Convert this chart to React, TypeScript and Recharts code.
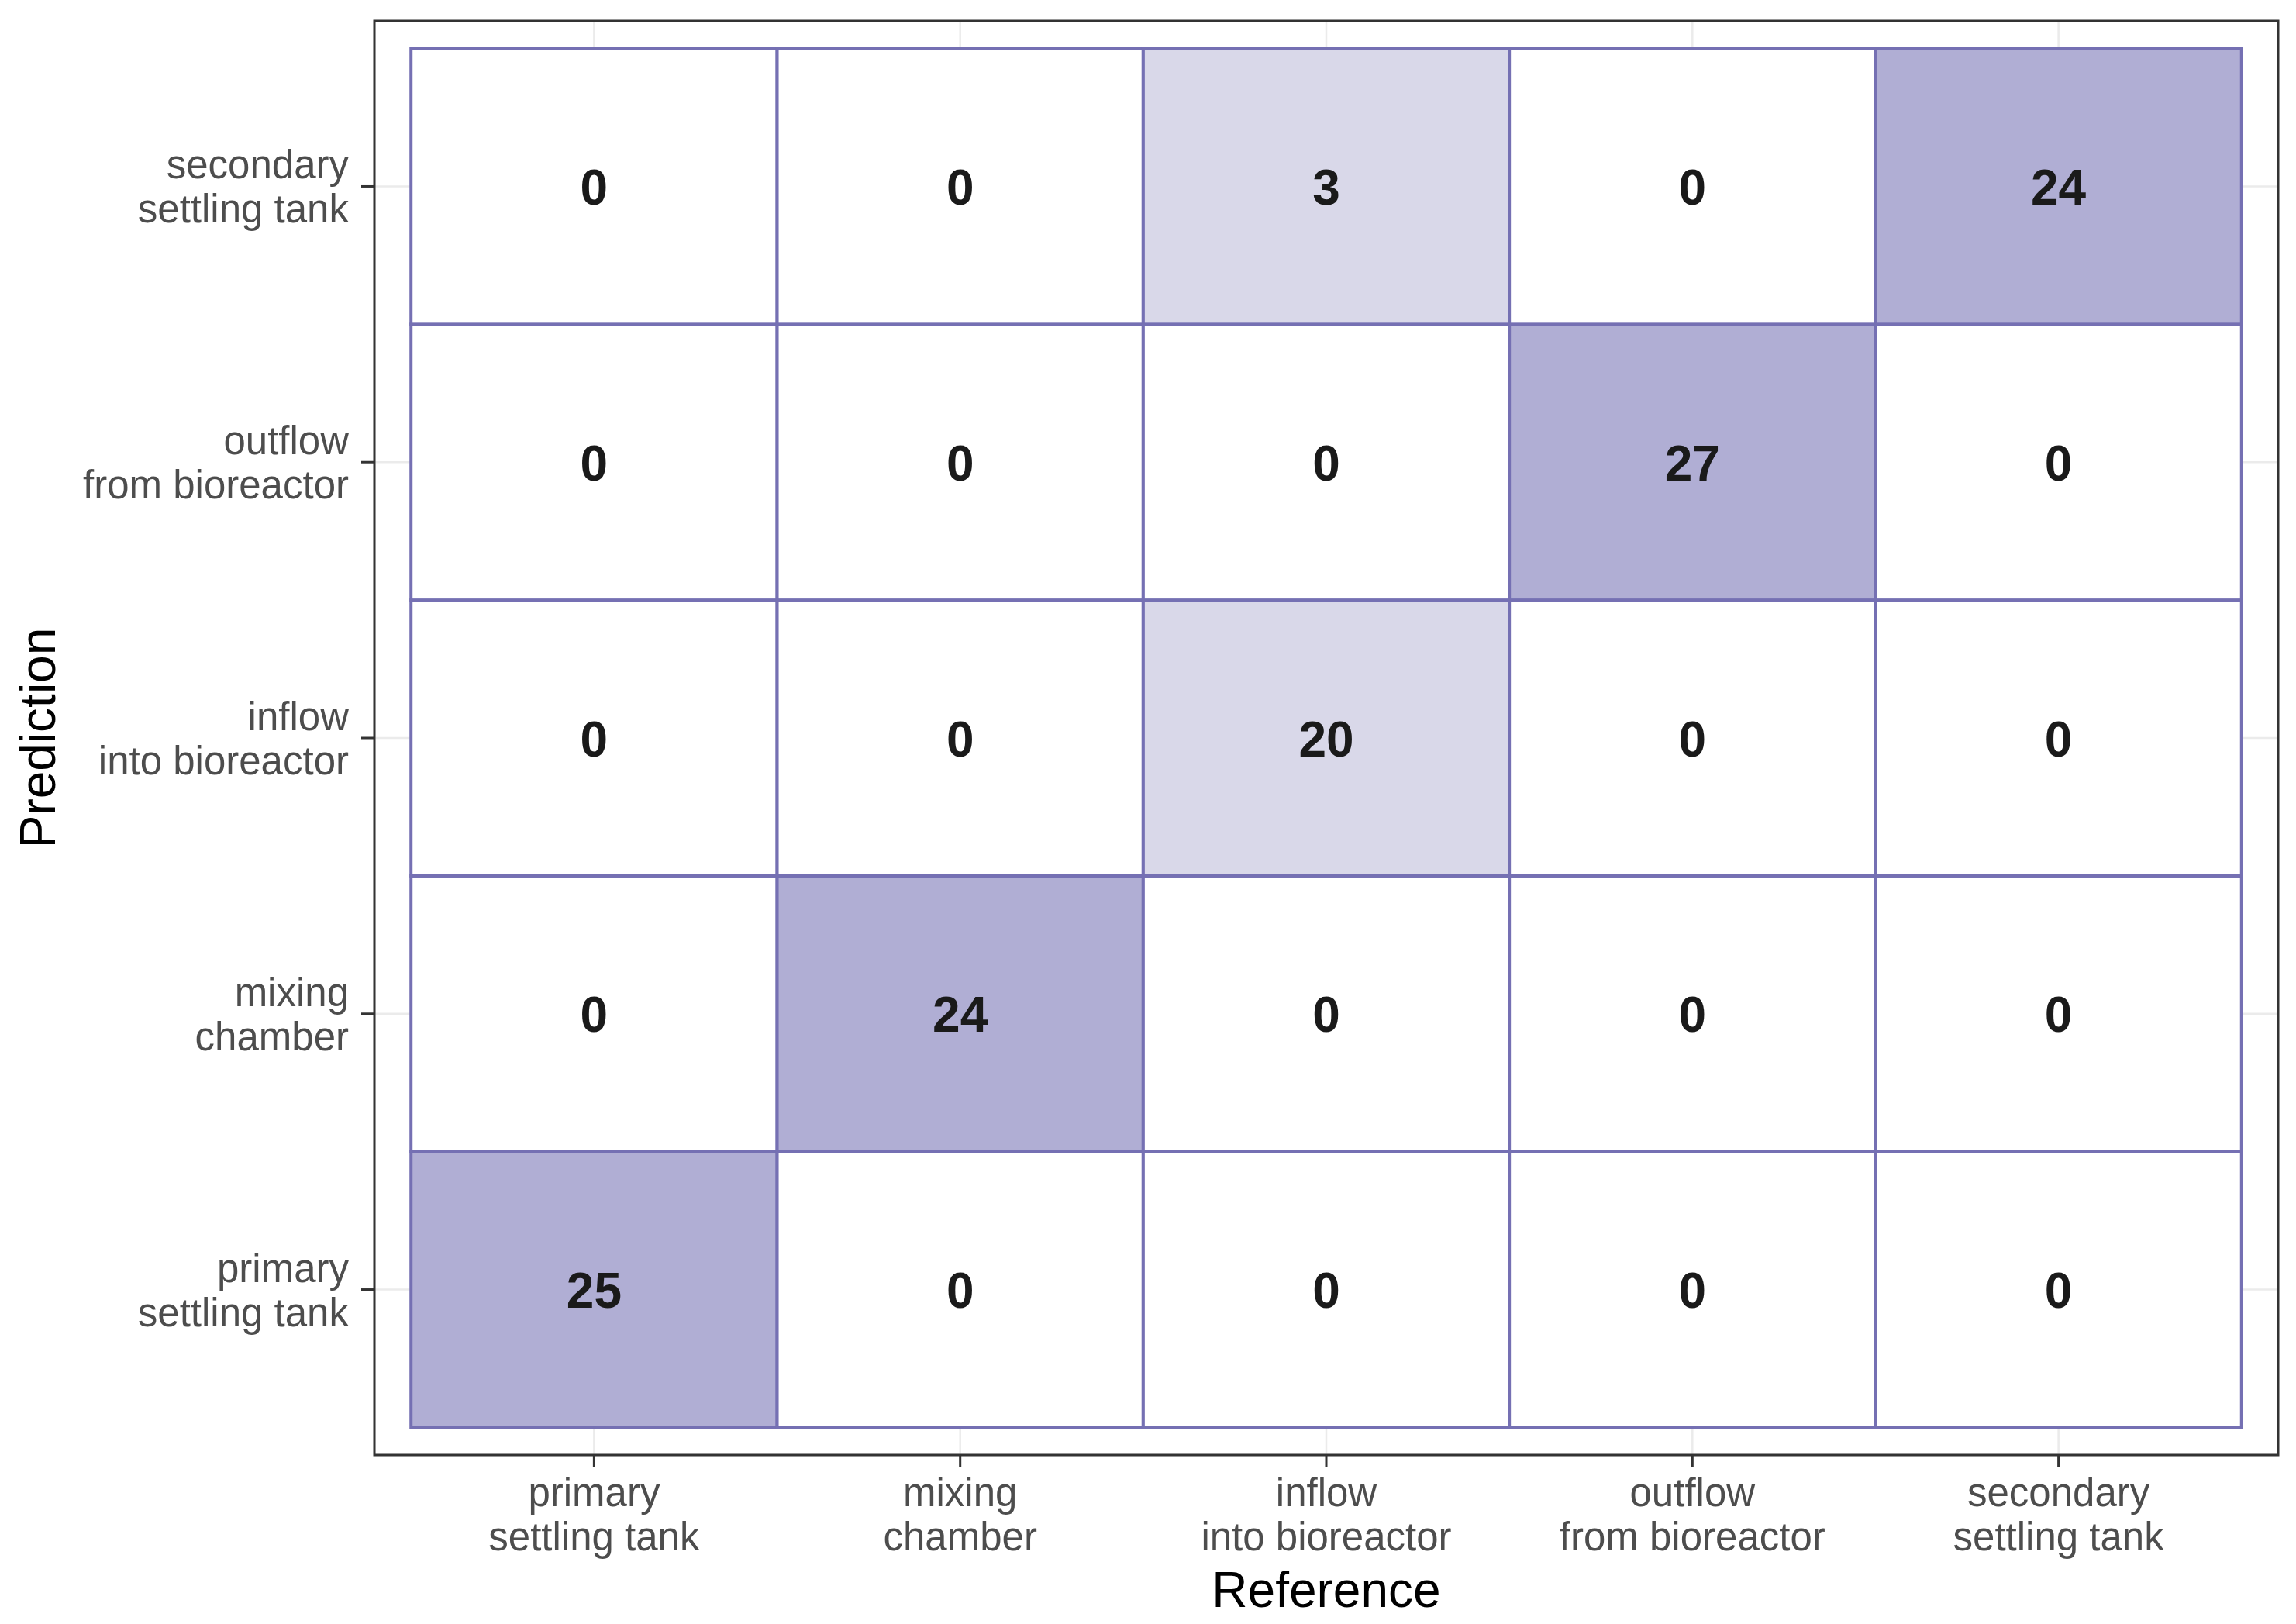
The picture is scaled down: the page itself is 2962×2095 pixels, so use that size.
import {
  ScatterChart,
  Scatter,
  XAxis,
  YAxis,
  CartesianGrid,
  ReferenceArea,
} from "recharts";

const referenceLabels = [
  ["primary", "settling tank"],
  ["mixing", "chamber"],
  ["inflow", "into bioreactor"],
  ["outflow", "from bioreactor"],
  ["secondary", "settling tank"],
];
const predictionLabels = referenceLabels;

// rows: prediction (bottom -> top), cols: reference (left -> right)
const predPrimary = [25, 0, 0, 0, 0];
const predMixing = [0, 24, 0, 0, 0];
const predInflow = [0, 0, 20, 0, 0];
const predOutflow = [0, 0, 0, 27, 0];
const predSecondary = [0, 0, 3, 0, 24];
const rows = [predPrimary, predMixing, predInflow, predOutflow, predSecondary];

const ticks = [1, 2, 3, 4, 5];
const domain: [number, number] = [0.4, 5.6];

const W = 2962;
const H = 2095;
const MARGIN = { top: 27, right: 23, left: 0, bottom: 0 };
const Y_AXIS_W = 483;
const X_AXIS_H = 218;
const PLOT_W = W - MARGIN.left - MARGIN.right - Y_AXIS_W;
const PLOT_H = H - MARGIN.top - MARGIN.bottom - X_AXIS_H;
const CELL_W = PLOT_W / (domain[1] - domain[0]);
const CELL_H = PLOT_H / (domain[1] - domain[0]);

const cells = rows.flatMap((row, r) =>
  row.map((value, c) => ({ x: c + 1, y: r + 1, value }))
);

const FONT = "'Liberation Sans', Arial, Helvetica, sans-serif";

function fillFor(value: number) {
  if (value === 0) return "#ffffff";
  if (value <= 20) return "#d9d8e9";
  return "#b0aed4";
}

function Tile(props: any) {
  const { cx, cy, payload } = props;
  if (cx == null || cy == null) return null;
  return (
    <g>
      <rect
        x={cx - CELL_W / 2}
        y={cy - CELL_H / 2}
        width={CELL_W}
        height={CELL_H}
        fill={fillFor(payload.value)}
        stroke="#7570b3"
        strokeWidth={4}
      />
      <text
        x={cx}
        y={cy}
        dy="0.37em"
        textAnchor="middle"
        fontFamily={FONT}
        fontWeight="bold"
        fontSize={64}
        fill="#1a1a1a"
      >
        {payload.value}
      </text>
    </g>
  );
}

function XTick(props: any) {
  const { x, y, payload } = props;
  const lines = referenceLabels[payload.value - 1] || [];
  return (
    <text x={x} y={y} textAnchor="middle" fontFamily={FONT} fontSize={51} fill="#4d4d4d">
      {lines.map((l, i) => (
        <tspan key={i} x={x} y={y + 51 + i * 57}>
          {l}
        </tspan>
      ))}
    </text>
  );
}

function YTick(props: any) {
  const { x, y, payload } = props;
  const lines = predictionLabels[payload.value - 1] || [];
  return (
    <text x={x} y={y} textAnchor="end" fontFamily={FONT} fontSize={51} fill="#4d4d4d">
      {lines.map((l, i) => (
        <tspan key={i} x={x} y={y - 10 + i * 57}>
          {l}
        </tspan>
      ))}
    </text>
  );
}

export default function App() {
  return (
    <div style={{ position: "absolute", left: 0, top: 0, width: W, height: H, background: "#fff" }}>
      <ScatterChart width={W} height={H} margin={MARGIN}>
        <CartesianGrid stroke="#ebebeb" strokeWidth={2.5} />
        <XAxis
          type="number"
          dataKey="x"
          domain={domain}
          ticks={ticks}
          interval={0}
          height={X_AXIS_H}
          axisLine={false}
          tickLine={{ stroke: "#333333", strokeWidth: 3 }}
          tickSize={15}
          tickMargin={0}
          tick={<XTick />}
          label={({ viewBox }: any) => (
            <text
              x={viewBox.x + viewBox.width / 2}
              y={viewBox.y + 196}
              textAnchor="middle"
              fontFamily={FONT}
              fontSize={64}
              fill="#000"
            >
              Reference
            </text>
          )}
        />
        <YAxis
          type="number"
          dataKey="y"
          domain={domain}
          ticks={ticks}
          interval={0}
          width={Y_AXIS_W}
          axisLine={false}
          tickLine={{ stroke: "#333333", strokeWidth: 3 }}
          tickSize={17}
          tickMargin={16}
          tick={<YTick />}
          label={({ viewBox }: any) => (
            <text
              x={71}
              y={viewBox.y + viewBox.height / 2}
              transform={`rotate(-90, 71, ${viewBox.y + viewBox.height / 2})`}
              textAnchor="middle"
              fontFamily={FONT}
              fontSize={64}
              fill="#000"
            >
              Prediction
            </text>
          )}
        />
        <Scatter data={cells} shape={<Tile />} isAnimationActive={false} />
        <ReferenceArea
          x1={domain[0]}
          x2={domain[1]}
          y1={domain[0]}
          y2={domain[1]}
          fill="none"
          fillOpacity={0}
          stroke="#333333"
          strokeWidth={3}
          ifOverflow="visible"
        />
      </ScatterChart>
    </div>
  );
}
